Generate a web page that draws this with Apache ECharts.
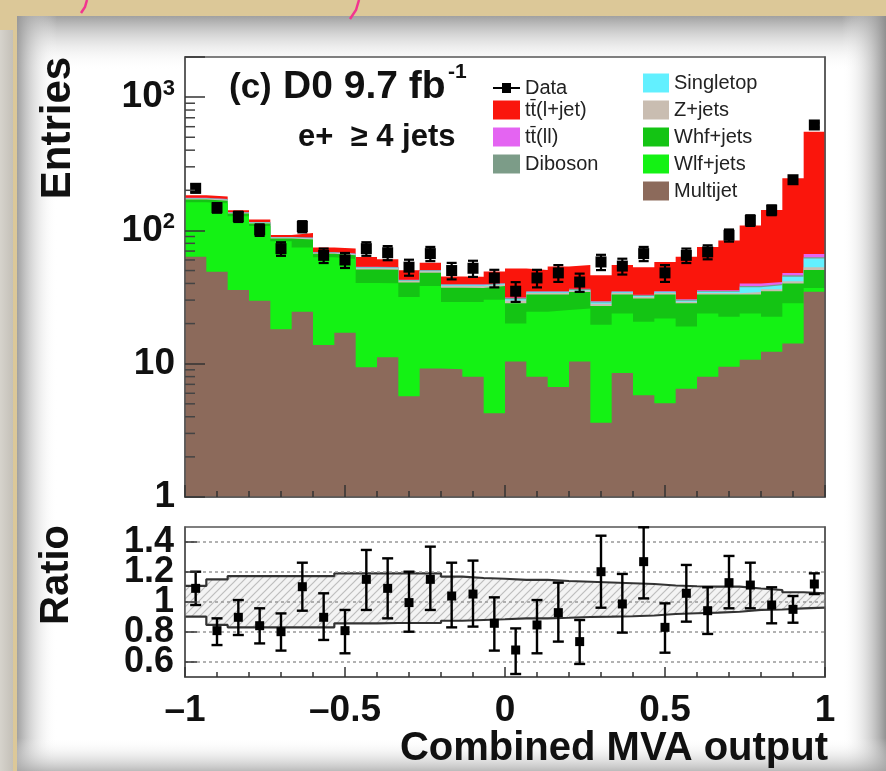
<!DOCTYPE html>
<html><head><meta charset="utf-8">
<script src="https://cdn.jsdelivr.net/npm/echarts@6/dist/echarts.min.js"></script>
<style>html,body{margin:0;padding:0;background:#dcc898;}#c{width:886px;height:771px;}</style>
</head><body><div id="c"></div>
<script>
// ---- binning / axes ----
const nBins = 30;
const xRange = [-1, 1];
const xTickLabels = {'-1':'\u20131','-0.5':'\u20130.5','0':'0','0.5':'0.5','1':'1'};
const yTickLabels = {'1':'1','10':'10','100':'10{sup|2}','1000':'10{sup|3}'};
const ratioTicks = [0.6, 0.8, 1, 1.2, 1.4];
const minorLogTicks = [2,3,4,5,6,7,8,9,20,30,40,50,60,70,80,90,200,300,400,500,600,700,800,900,2000];

// ---- MC components (entries per bin) ----
const multijet  = [63.5,49,35.7,29.7,18.1,24.5,13.8,17.1,9.4,11.2,5.7,9.2,9.1,8.0,4.25,10.4,8.0,6.7,10.4,3.6,8.5,5.8,5.05,6.5,8.0,9.5,10.7,12.3,14.2,34.7];
const wlfJets   = [99,111,92,78,65,50,49,44,31,29,26,29,20,21,26,9.6,16.5,18.6,15.6,16,15.3,14.8,16.8,12.5,15.8,13,13.1,10.2,14.2,2.3];
const whfJets   = [8,7,6,5,4,11,4,4,10.5,10.5,9,10,8,8,8,8.4,8.5,7.7,8.5,7.5,9.2,10.3,11.2,9.4,9.2,10.5,9.2,12.5,11.6,13.5];
const zJets     = [2.5,2.5,1.5,1.5,1,1.5,1,1,1.2,1.2,1,1.1,1.2,1.2,1,1.4,0.9,0.9,0.9,1.1,0.9,0.9,0.8,0.8,0.9,0.8,1.5,1.2,1.5,2.5];
const singletop = [0.7,0.7,0.4,0.4,0.3,0.5,0.3,0.3,0.5,0.5,0.35,0.5,0.5,0.5,0.35,0.6,0.4,0.4,0.4,0.55,0.4,0.4,0.5,0.5,0.7,0.8,3.0,2.6,3.5,8.5];
const diboson   = [1.5,1.5,0.9,0.9,0.6,0.8,0.5,0.5,0.6,0.6,0.5,0.5,0.6,0.6,0.5,0.7,0.5,0.5,0.5,0.6,0.5,0.5,0.5,0.5,0.5,0.5,0.8,0.8,1.0,1.5];
const ttDilep   = [0.3,0.3,0.2,0.2,0.1,0.2,0.2,0.2,0.2,0.2,0.15,0.2,0.2,0.2,0.15,0.3,0.2,0.2,0.2,0.25,0.2,0.2,0.2,0.3,0.4,0.4,1.7,1.4,2.0,3.5];
const ttLjet    = [8,8,5,5,3.4,7,5.6,6,9.8,7.7,7.5,6.6,5.5,5.5,9,20.5,15.5,18.5,18.5,16.5,20,20,23,33,39.5,48.5,69,101,198,484];

// ---- data ----
const dataCounts = [207,148,127,101,73,107,65,60,73,68,53,67,50,52,44,35,44,48,41,58,54,67,48,65,69,92,119,142,240,618];
const ratio   = [1.091,0.809,0.898,0.842,0.802,1.102,0.898,0.809,1.151,1.091,0.996,1.151,1.04,1.053,0.858,0.68,0.847,0.929,0.736,1.202,0.987,1.269,0.831,1.058,0.942,1.129,1.113,0.98,0.951,1.12];
const ratioHi = [1.202,0.891,1.013,0.958,0.924,1.262,1.058,0.947,1.347,1.291,1.202,1.369,1.262,1.276,1.031,0.824,1.013,1.129,0.88,1.442,1.187,1.498,0.991,1.247,1.098,1.307,1.262,1.098,1.04,1.191];
const ratioLo = [0.98,0.713,0.78,0.724,0.676,0.942,0.747,0.658,0.947,0.891,0.802,0.947,0.831,0.836,0.676,0.52,0.658,0.736,0.587,0.962,0.796,1.024,0.662,0.869,0.787,0.958,0.958,0.858,0.862,1.053];
const bandHi  = [1.107,1.151,1.173,1.173,1.173,1.173,1.173,1.191,1.191,1.191,1.191,1.191,1.169,1.16,1.155,1.147,1.147,1.14,1.135,1.13,1.125,1.12,1.11,1.105,1.102,1.102,1.09,1.08,1.065,1.058];
const bandLo  = [0.902,0.847,0.831,0.831,0.831,0.831,0.831,0.858,0.858,0.86,0.86,0.86,0.875,0.88,0.885,0.891,0.891,0.895,0.9,0.902,0.905,0.91,0.92,0.925,0.929,0.935,0.947,0.95,0.958,0.962];

const FONT = '"Liberation Sans", Arial, Helvetica, sans-serif';
const binEdges = Array.from({length: nBins + 1}, (_, i) => xRange[0] + i * (xRange[1] - xRange[0]) / nBins);
const binCenters = binEdges.slice(0, nBins).map((e, i) => (e + binEdges[i + 1]) / 2);
const ratioLabelsA = ratioTicks.filter((_, i) => i % 2 === 0);
const ratioLabelsB = ratioTicks.filter((_, i) => i % 2 === 1);

// stack bottom -> top
const stackDefs = [
  {name: 'Multijet',  values: multijet,  color: '#8c6a5b'},
  {name: 'Wlf+jets',  values: wlfJets,   color: '#14f214'},
  {name: 'Whf+jets',  values: whfJets,   color: '#14c414'},
  {name: 'Z+jets',    values: zJets,     color: '#c9bdb1'},
  {name: 'Singletop', values: singletop, color: '#62f0ff'},
  {name: 'Diboson',   values: diboson,   color: '#7c9c88'},
  {name: 't\u0074\u0304(ll)',    values: ttDilep,   color: '#e464f2'},
  {name: 't\u0074\u0304(l+jet)', values: ttLjet,    color: '#fa150c'}
];
const cum = [];
stackDefs.forEach((d, k) => {
  cum.push(d.values.map((v, i) => v + (k > 0 ? cum[k - 1][i] : 0)));
});
function stepData(vals) {
  const out = vals.map((v, i) => [binEdges[i], v]);
  out.push([binEdges[nBins], vals[nBins - 1]]);
  return out;
}

const series = [];
for (let k = stackDefs.length - 1; k >= 0; k--) {
  series.push({
    type: 'line', name: stackDefs[k].name, xAxisIndex: 0, yAxisIndex: 0,
    step: 'end', symbol: 'none', showSymbol: false, silent: true,
    data: stepData(cum[k]), color: stackDefs[k].color,
    lineStyle: {width: 0, opacity: 0},
    areaStyle: {color: stackDefs[k].color, opacity: 1, origin: 'start'},
    z: 2
  });
}

function errBar(api, p, lo, hi, half, sq, lw) {
  return {type: 'group', children: [
    {type: 'line', shape: {x1: p[0], y1: lo[1], x2: p[0], y2: hi[1]}, style: {stroke: '#000', lineWidth: lw}},
    {type: 'line', shape: {x1: p[0] - half, y1: lo[1], x2: p[0] + half, y2: lo[1]}, style: {stroke: '#000', lineWidth: lw}},
    {type: 'line', shape: {x1: p[0] - half, y1: hi[1], x2: p[0] + half, y2: hi[1]}, style: {stroke: '#000', lineWidth: lw}},
    {type: 'rect', shape: {x: p[0] - sq, y: p[1] - sq, width: 2 * sq, height: 2 * sq}, style: {fill: '#000'}}
  ]};
}

series.push({
  type: 'custom', name: 'Data', xAxisIndex: 0, yAxisIndex: 0, z: 5, silent: true,
  itemStyle: {color: '#000'},
  data: dataCounts.map((v, i) => [binCenters[i], v, v - Math.sqrt(v), v + Math.sqrt(v)]),
  renderItem(params, api) {
    const x = api.value(0);
    const p = api.coord([x, api.value(1)]);
    const lo = api.coord([x, api.value(2)]);
    const hi = api.coord([x, api.value(3)]);
    return errBar(api, p, lo, hi, 5, 5.5, 2.2);
  }
});

// minor log ticks
series.push({
  type: 'custom', name: 'minorTicks', xAxisIndex: 0, yAxisIndex: 0, z: 11, silent: true,
  data: minorLogTicks.map(v => [xRange[0], v]),
  renderItem(params, api) {
    const p = api.coord([api.value(0), api.value(1)]);
    return {type: 'line', shape: {x1: p[0], y1: p[1], x2: p[0] + 10, y2: p[1]}, style: {stroke: '#444', lineWidth: 1.5}};
  }
});

// hatch pattern
const pc = document.createElement('canvas');
pc.width = 8; pc.height = 8;
const g = pc.getContext('2d');
g.fillStyle = '#f3f3f3'; g.fillRect(0, 0, 8, 8);
g.strokeStyle = '#bdbdbd'; g.lineWidth = 1.2;
g.beginPath(); g.moveTo(-1, 9); g.lineTo(9, -1); g.moveTo(-1, 1); g.lineTo(1, -1); g.moveTo(7, 9); g.lineTo(9, 7); g.stroke();

series.push({
  type: 'custom', name: 'band', xAxisIndex: 1, yAxisIndex: 2, z: 2, silent: true,
  data: bandLo.map((v, i) => [binEdges[i], binEdges[i + 1], v, bandHi[i]]),
  renderItem(params, api) {
    const a = api.coord([api.value(0), api.value(3)]);
    const b = api.coord([api.value(1), api.value(2)]);
    return {type: 'rect', shape: {x: a[0], y: a[1], width: b[0] - a[0] + 0.6, height: b[1] - a[1]},
      style: {fill: {image: pc, repeat: 'repeat'}}};
  }
});
[bandHi, bandLo].forEach((arr, j) => {
  series.push({
    type: 'line', name: 'bandLine' + j, xAxisIndex: 1, yAxisIndex: 2, step: 'end', symbol: 'none',
    showSymbol: false, silent: true, z: 3, data: stepData(arr),
    lineStyle: {color: '#333', width: 2.2},
    markLine: j === 0 ? {silent: true, symbol: 'none', label: {show: false},
      lineStyle: {color: '#999', type: [3, 3], width: 1.5},
      data: ratioTicks.map(v => ({yAxis: v}))} : undefined
  });
});
series.push({
  type: 'custom', name: 'ratio', xAxisIndex: 1, yAxisIndex: 2, z: 5, silent: true,
  data: ratio.map((v, i) => [binCenters[i], v, ratioLo[i], ratioHi[i]]),
  renderItem(params, api) {
    const x = api.value(0);
    const p = api.coord([x, api.value(1)]);
    const lo = api.coord([x, api.value(2)]);
    const hi = api.coord([x, api.value(3)]);
    return errBar(api, p, lo, hi, 5.5, 4.5, 2.4);
  }
});

const axisLineStyle = {color: '#555', width: 1.5};
const tickStyle = {color: '#333', width: 1.5};
const labelBase = {fontSize: 37, fontWeight: 'bold', fontFamily: FONT, color: '#111', hideOverlap: false};

const legendText = {fontSize: 20, fontFamily: FONT, color: '#222'};

const option = {
  animation: false,
  backgroundColor: '#dcc898',
  grid: [
    {left: 185, top: 57, width: 640, height: 440, show: true, backgroundColor: '#fff', borderColor: '#555', borderWidth: 1.5},
    {left: 185, top: 527, width: 640, height: 150, show: true, backgroundColor: '#fff', borderColor: '#555', borderWidth: 1.5}
  ],
  xAxis: [
    {gridIndex: 0, type: 'value', min: xRange[0], max: xRange[1], interval: 0.5, z: 10,
      axisLabel: {show: false}, splitLine: {show: false},
      axisLine: {show: true, onZero: false, lineStyle: axisLineStyle},
      axisTick: {show: true, inside: true, length: 12, lineStyle: tickStyle},
      minorTick: {show: true, splitNumber: 5, length: 6, lineStyle: tickStyle}},
    {gridIndex: 1, type: 'value', min: xRange[0], max: xRange[1], interval: 0.5, z: 10,
      axisLabel: Object.assign({margin: 15, formatter: v => xTickLabels[String(v)] ?? ''}, labelBase),
      splitLine: {show: false},
      axisLine: {show: true, onZero: false, lineStyle: axisLineStyle},
      axisTick: {show: true, inside: true, length: 10, lineStyle: tickStyle},
      minorTick: {show: true, splitNumber: 5, length: 5, lineStyle: tickStyle}}
  ],
  yAxis: [
    {gridIndex: 0, type: 'log', logBase: 10, min: 1, max: 2000, z: 10,
      axisLabel: Object.assign({margin: 10, lineHeight: 38,
        formatter: v => { const r = Math.round(v); return (Math.abs(v - r) < 1e-6 * r && yTickLabels[String(r)]) || ''; },
        rich: {sup: {fontSize: 22, fontWeight: 'bold', fontFamily: FONT, color: '#111', verticalAlign: 'top', lineHeight: 22}}}, labelBase),
      splitLine: {show: false}, minorTick: {show: false},
      axisLine: {show: true, onZero: false, lineStyle: axisLineStyle},
      axisTick: {show: true, inside: true, length: 20, lineStyle: tickStyle}},
    {gridIndex: 0, type: 'log', logBase: 10, min: 1, max: 2000, position: 'right', z: 10,
      axisLabel: {show: false}, axisTick: {show: false}, splitLine: {show: false},
      axisLine: {show: true, onZero: false, lineStyle: axisLineStyle}},
    {gridIndex: 1, type: 'value', min: 0.5, max: 1.5, z: 10,
      axisLabel: Object.assign({}, labelBase, {margin: 11, customValues: ratioLabelsA, fontSize: 36}),
      splitLine: {show: false},
      axisLine: {show: true, onZero: false, lineStyle: axisLineStyle},
      axisTick: {show: true, inside: true, length: 12, customValues: ratioTicks, lineStyle: tickStyle}},
    {gridIndex: 1, type: 'value', min: 0.5, max: 1.5, position: 'right', z: 10,
      axisLabel: {show: false}, axisTick: {show: false}, splitLine: {show: false},
      axisLine: {show: true, onZero: false, lineStyle: axisLineStyle}},
    {gridIndex: 1, type: 'value', min: 0.5, max: 1.5, position: 'left', offset: 0, z: 10,
      axisLabel: Object.assign({}, labelBase, {margin: 11, customValues: ratioLabelsB, fontSize: 36}),
      axisTick: {show: false}, splitLine: {show: false},
      axisLine: {show: false, onZero: false}}
  ],
  legend: [
    {left: 493, top: 78, orient: 'vertical', padding: 0, selectedMode: false, itemWidth: 27, itemHeight: 10,
      textStyle: legendText, data: [{name: 'Data', icon: 'path://M0,4 H9 V0 H18 V4 H27 V6 H18 V10 H9 V6 H0 Z'}]},
    {left: 493, top: 100, orient: 'vertical', padding: 0, selectedMode: false, itemWidth: 27, itemHeight: 19, itemGap: 7,
      icon: 'rect', textStyle: legendText, data: ['t\u0074\u0304(l+jet)', 't\u0074\u0304(ll)', 'Diboson']},
    {left: 643, top: 73, orient: 'vertical', padding: 0, selectedMode: false, itemWidth: 26, itemHeight: 19, itemGap: 7,
      icon: 'rect', textStyle: legendText, data: ['Singletop', 'Z+jets', 'Whf+jets', 'Wlf+jets', 'Multijet']}
  ],
  graphic: [
    {type: 'rect', z: -20, silent: true, shape: {x: 0, y: 0, width: 886, height: 771}, style: {fill: '#dcc898'}},
    {type: 'rect', z: -19, silent: true, shape: {x: 0, y: 30, width: 13, height: 741},
      style: {fill: new echarts.graphic.LinearGradient(0, 0, 1, 0, [{offset: 0, color: '#d6d3cc'}, {offset: 1, color: '#c4c0b8'}])}},
    {type: 'rect', z: -18, silent: true, shape: {x: 17, y: 16, width: 880, height: 760}, style: {fill: '#ffffff'}},
    {type: 'rect', z: -17, silent: true, shape: {x: 17, y: 16, width: 880, height: 55},
      style: {fill: new echarts.graphic.LinearGradient(0, 0, 0, 1, [{offset: 0, color: 'rgba(150,150,150,0.9)'}, {offset: 1, color: 'rgba(255,255,255,0)'}])}},
    {type: 'rect', z: -17, silent: true, shape: {x: 17, y: 16, width: 40, height: 760},
      style: {fill: new echarts.graphic.LinearGradient(0, 0, 1, 0, [{offset: 0, color: 'rgba(150,150,150,0.9)'}, {offset: 1, color: 'rgba(255,255,255,0)'}])}},
    {type: 'rect', z: -17, silent: true, shape: {x: 842, y: 16, width: 44, height: 760},
      style: {fill: new echarts.graphic.LinearGradient(0, 0, 1, 0, [{offset: 0, color: 'rgba(255,255,255,0)'}, {offset: 1, color: 'rgba(140,140,140,0.95)'}])}},
    {type: 'rect', z: -17, silent: true, shape: {x: 17, y: 738, width: 880, height: 33},
      style: {fill: new echarts.graphic.LinearGradient(0, 0, 0, 1, [{offset: 0, color: 'rgba(255,255,255,0)'}, {offset: 1, color: 'rgba(170,170,170,0.8)'}])}},
    {type: 'polyline', z: -16, silent: true, shape: {points: [[87, 0], [85, 7], [81, 13]]}, style: {stroke: '#f2358f', lineWidth: 2.5, fill: null}},
    {type: 'polyline', z: -16, silent: true, shape: {points: [[359, 0], [356, 10], [350, 19]]}, style: {stroke: '#f2358f', lineWidth: 2.5, fill: null}},
    {type: 'text', z: 100, silent: true, x: 58, y: 128, rotation: Math.PI / 2,
      style: {text: 'Entries', x: 0, y: 0, font: 'bold 42px ' + FONT, fill: '#111', textAlign: 'center', textVerticalAlign: 'middle', verticalAlign: 'middle'}},
    {type: 'text', z: 100, silent: true, x: 57, y: 575, rotation: Math.PI / 2,
      style: {text: 'Ratio', x: 0, y: 0, font: 'bold 40px ' + FONT, fill: '#111', textAlign: 'center', textVerticalAlign: 'middle', verticalAlign: 'middle'}},
    {type: 'text', z: 100, silent: true,
      style: {text: 'Combined MVA output', x: 828, y: 749, font: 'bold 40px ' + FONT, fill: '#111', textAlign: 'right', textVerticalAlign: 'middle', verticalAlign: 'middle'}},
    {type: 'text', z: 100, silent: true,
      style: {text: '(c)', x: 229, y: 88, font: 'bold 35px ' + FONT, fill: '#111', textAlign: 'left', textVerticalAlign: 'middle', verticalAlign: 'middle'}},
    {type: 'text', z: 100, silent: true,
      style: {text: 'D0 9.7 fb', x: 283, y: 87, font: 'bold 39px ' + FONT, fill: '#111', textAlign: 'left', textVerticalAlign: 'middle', verticalAlign: 'middle'}},
    {type: 'text', z: 100, silent: true,
      style: {text: '-1', x: 448, y: 72, font: 'bold 21px ' + FONT, fill: '#111', textAlign: 'left', textVerticalAlign: 'middle', verticalAlign: 'middle'}},
    {type: 'text', z: 100, silent: true,
      style: {text: 'e+  \u2265 4 jets', x: 298, y: 137, font: 'bold 31px ' + FONT, fill: '#111', textAlign: 'left', textVerticalAlign: 'middle', verticalAlign: 'middle'}}
  ],
  series: series
};
const chart = echarts.init(document.getElementById('c'), null, {width: 886, height: 771});
chart.setOption(option);
</script>
</body></html>
